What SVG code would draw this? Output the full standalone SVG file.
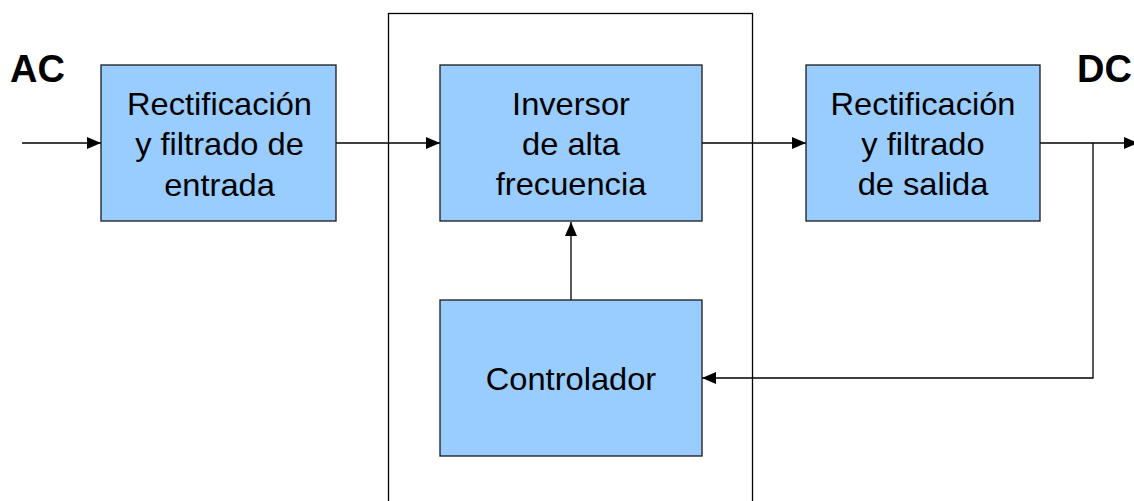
<svg xmlns="http://www.w3.org/2000/svg" width="1134" height="501" viewBox="0 0 1134 501">
<style>
.box{fill:#99ccff;stroke:#1a1a1a;stroke-width:1.3}
.t{font-family:"Liberation Sans",Arial,sans-serif;font-size:30.5px;fill:#000;text-anchor:middle}
.lab{font-family:"Liberation Sans",Arial,sans-serif;font-size:38px;font-weight:bold;fill:#000}
.c{fill:none;stroke:#000;stroke-width:1.3}
</style>
<defs>
<marker id="ah" markerWidth="14" markerHeight="12" refX="14" refY="6" orient="auto" markerUnits="userSpaceOnUse">
<path d="M0,0 L14,6 L0,12 Z" fill="#000"/>
</marker>
</defs>
<rect id="frame" x="388.5" y="13.5" width="364" height="500" fill="none" stroke="#000" stroke-width="1.3"/>
<g id="labels">
<text class="lab" x="10" y="82">AC</text>
<text class="lab" x="1077" y="82">DC</text>
</g>
<g id="connectors">
<line class="c" x1="22" y1="143" x2="101" y2="143" marker-end="url(#ah)"/>
<line class="c" x1="336" y1="143" x2="440" y2="143" marker-end="url(#ah)"/>
<line class="c" x1="702" y1="143" x2="806" y2="143" marker-end="url(#ah)"/>
<line class="c" x1="1040" y1="143" x2="1138" y2="143" marker-end="url(#ah)"/>
<polyline class="c" points="1093,143 1093,378 702,378" marker-end="url(#ah)"/>
<line class="c" x1="571" y1="300" x2="571" y2="222" marker-end="url(#ah)"/>
</g>
<g id="rect-entrada">
<rect class="box" x="101" y="65" width="235" height="156"/>
<text class="t" transform="translate(219.5,115) scale(1.07,1)">Rectificación</text>
<text class="t" transform="translate(219.5,155) scale(1.07,1)">y filtrado de</text>
<text class="t" transform="translate(219.5,196) scale(1.07,1)">entrada</text>
</g>
<g id="inversor">
<rect class="box" x="440" y="65" width="262" height="156"/>
<text class="t" transform="translate(571,115) scale(1.07,1)">Inversor</text>
<text class="t" transform="translate(571,155) scale(1.07,1)">de alta</text>
<text class="t" transform="translate(571,195) scale(1.07,1)">frecuencia</text>
</g>
<g id="rect-salida">
<rect class="box" x="806" y="65" width="234" height="156"/>
<text class="t" transform="translate(923,115) scale(1.07,1)">Rectificación</text>
<text class="t" transform="translate(923,155) scale(1.07,1)">y filtrado</text>
<text class="t" transform="translate(923,195) scale(1.07,1)">de salida</text>
</g>
<g id="controlador">
<rect class="box" x="440" y="300" width="262" height="156"/>
<text class="t" transform="translate(571,390) scale(1.07,1)">Controlador</text>
</g>
</svg>
